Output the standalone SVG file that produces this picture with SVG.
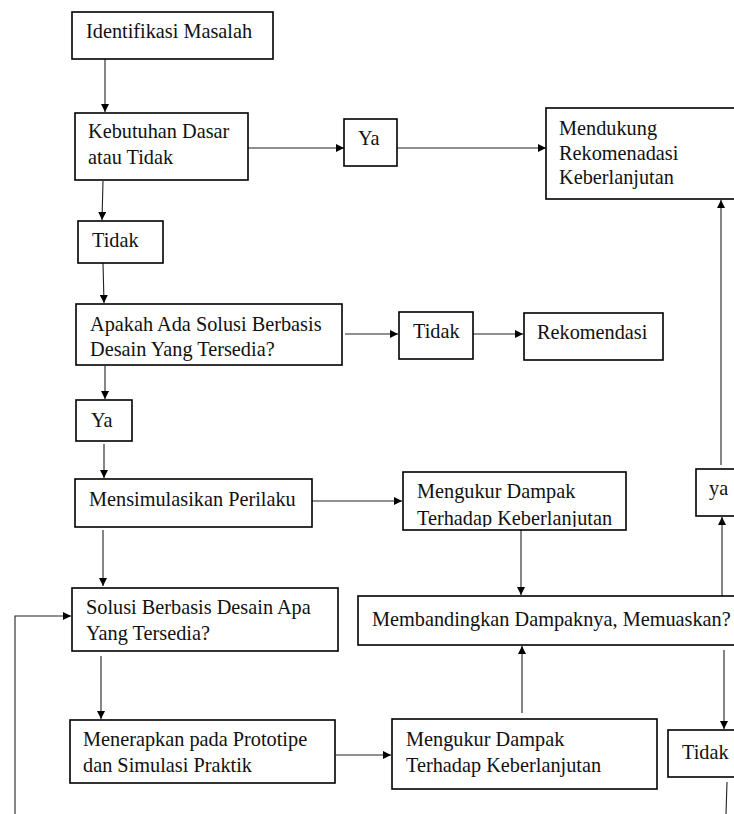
<svg xmlns="http://www.w3.org/2000/svg" width="734" height="814" viewBox="0 0 734 814">
<style>
.box{fill:#fff;stroke:#000;stroke-width:1.6}
.t{font-family:"Liberation Serif","Times New Roman",serif;font-size:20.3px;fill:#111}
.c{fill:none;stroke:#222;stroke-width:1.1}
</style>
<defs>
<marker id="ah" viewBox="0 0 10 10" refX="10" refY="5" markerWidth="8" markerHeight="8" markerUnits="userSpaceOnUse" orient="auto">
<path d="M0,0 L10,5 L0,10 Z" fill="#000"/>
</marker>
<clipPath id="clipM1"><rect x="403" y="472" width="223" height="55"/></clipPath>
</defs>
<rect width="734" height="814" fill="#fff"/>
<g id="connectors">
<line class="c" x1="105" y1="59" x2="105" y2="112" marker-end="url(#ah)"/>
<line class="c" x1="248" y1="148" x2="344" y2="148" marker-end="url(#ah)"/>
<line class="c" x1="397" y1="148" x2="546" y2="148" marker-end="url(#ah)"/>
<line class="c" x1="103" y1="181" x2="102" y2="220" marker-end="url(#ah)"/>
<line class="c" x1="103" y1="263" x2="104" y2="303" marker-end="url(#ah)"/>
<line class="c" x1="345" y1="334" x2="398" y2="334" marker-end="url(#ah)"/>
<line class="c" x1="471" y1="334" x2="523" y2="334" marker-end="url(#ah)"/>
<line class="c" x1="105" y1="366" x2="105" y2="399" marker-end="url(#ah)"/>
<line class="c" x1="104" y1="444" x2="104" y2="478" marker-end="url(#ah)"/>
<line class="c" x1="312" y1="501" x2="402" y2="501" marker-end="url(#ah)"/>
<line class="c" x1="103" y1="530" x2="103" y2="586" marker-end="url(#ah)"/>
<line class="c" x1="521" y1="530" x2="521" y2="595" marker-end="url(#ah)"/>
<line class="c" x1="722" y1="596" x2="722" y2="517" marker-end="url(#ah)"/>
<line class="c" x1="721" y1="465" x2="721" y2="200" marker-end="url(#ah)"/>
<line class="c" x1="724" y1="650" x2="724" y2="729" marker-end="url(#ah)"/>
<line class="c" x1="727" y1="782" x2="726" y2="814"/>
<line class="c" x1="522" y1="713" x2="522" y2="646" marker-end="url(#ah)"/>
<line class="c" x1="101" y1="656" x2="101" y2="719" marker-end="url(#ah)"/>
<line class="c" x1="336" y1="755" x2="391" y2="755" marker-end="url(#ah)"/>
<polyline class="c" points="15,814 15,616 71,616" marker-end="url(#ah)"/>
</g>
<g id="n1"><rect class="box" x="72" y="12" width="201" height="47"/><text class="t" x="86" y="38">Identifikasi Masalah</text></g>
<g id="n2"><rect class="box" x="75" y="113" width="173" height="67"/><text class="t" x="88" y="138">Kebutuhan Dasar</text><text class="t" x="88" y="164">atau Tidak</text></g>
<g id="n3"><rect class="box" x="344" y="119" width="53" height="47"/><text class="t" x="358" y="145">Ya</text></g>
<g id="n4"><rect class="box" x="546" y="108" width="200" height="91"/><text class="t" x="559" y="135">Mendukung</text><text class="t" x="559" y="160">Rekomenadasi</text><text class="t" x="559" y="184">Keberlanjutan</text></g>
<g id="n5"><rect class="box" x="78" y="221" width="85" height="42"/><text class="t" x="92" y="247">Tidak</text></g>
<g id="n6"><rect class="box" x="76" y="304" width="266" height="61"/><text class="t" x="90" y="331">Apakah Ada Solusi Berbasis</text><text class="t" x="90" y="356">Desain Yang Tersedia?</text></g>
<g id="n7"><rect class="box" x="399" y="312" width="74" height="47"/><text class="t" x="413" y="338">Tidak</text></g>
<g id="n8"><rect class="box" x="524" y="313" width="139" height="47"/><text class="t" x="537" y="339">Rekomendasi</text></g>
<g id="n9"><rect class="box" x="76" y="400" width="56" height="41"/><text class="t" x="91" y="427">Ya</text></g>
<g id="n10"><rect class="box" x="75" y="479" width="237" height="48"/><text class="t" x="89" y="506">Mensimulasikan Perilaku</text></g>
<g id="n11"><rect class="box" x="403" y="472" width="223" height="58"/><g clip-path="url(#clipM1)"><text class="t" x="417" y="498">Mengukur Dampak</text><text class="t" x="417" y="525">Terhadap Keberlanjutan</text></g></g>
<g id="n12"><rect class="box" x="696" y="469" width="60" height="47"/><text class="t" x="709" y="495">ya</text></g>
<g id="n13"><rect class="box" x="72" y="588" width="266" height="63"/><text class="t" x="86" y="614">Solusi Berbasis Desain Apa</text><text class="t" x="86" y="640">Yang Tersedia?</text></g>
<g id="n14"><rect class="box" x="358" y="596" width="400" height="49"/><text class="t" x="372" y="626">Membandingkan Dampaknya, Memuaskan?</text></g>
<g id="n15"><rect class="box" x="70" y="720" width="265" height="63"/><text class="t" x="83" y="746">Menerapkan pada Prototipe</text><text class="t" x="83" y="772">dan Simulasi Praktik</text></g>
<g id="n16"><rect class="box" x="392" y="719" width="265" height="70"/><text class="t" x="406" y="746">Mengukur Dampak</text><text class="t" x="406" y="772">Terhadap Keberlanjutan</text></g>
<g id="n17"><rect class="box" x="668" y="730" width="80" height="47"/><text class="t" x="682" y="759">Tidak</text></g>
</svg>
